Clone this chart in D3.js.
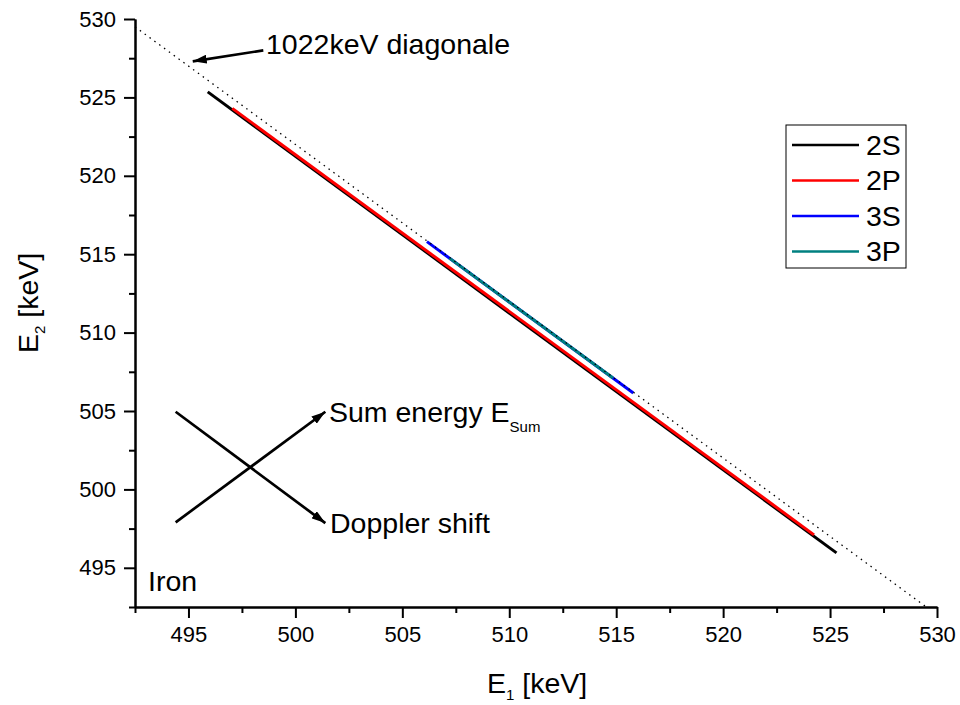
<!DOCTYPE html>
<html lang="en">

<head>
    <meta charset="UTF-8">
    <title>Iron - E1 vs E2</title>
    <script src="https://d3js.org/d3.v7.min.js"></script>
    <style>
        body {
            margin: 0;
            background: #fff;
            font-family: "Liberation Sans", Arial, sans-serif;
        }

        .tick text {
            font-size: 22px;
            font-family: "Liberation Sans", Arial, sans-serif;
        }

        .lbl {
            font-size: 28.5px;
        }
    </style>
</head>

<body>
    <svg id="chart" width="960" height="705"></svg>
    <script>
        // series: E1 / E2 in keV (start and end of each drawn line)
        let seriesNames = ["2S", "2P", "3S", "3P"]
        let seriesColors = ["#000000", "#ff0000", "#0000ff", "#008080"]
        let e1_2S = [495.9, 525.3]
        let e2_2S = [525.35, 495.95]
        let e1_2P = [497.05, 524.25]
        let e2_2P = [524.3, 497.1]
        let e1_3S = [506.15, 515.8]
        let e2_3S = [515.8, 506.15]
        let e1_3P = [507.2, 514.85]
        let e2_3P = [514.75, 507.1]

        // 1022 keV diagonal (E1 + E2 = 1022)
        let diagE1 = [492.5, 529.5]
        let diagE2 = [529.5, 492.5]

        let majorTicks = [495, 500, 505, 510, 515, 520, 525, 530]
        let minorTicks = [492.5, 497.5, 502.5, 507.5, 512.5, 517.5, 522.5, 527.5]

        let series = [
            { name: seriesNames[0], color: seriesColors[0], e1: e1_2S, e2: e2_2S },
            { name: seriesNames[1], color: seriesColors[1], e1: e1_2P, e2: e2_2P },
            { name: seriesNames[2], color: seriesColors[2], e1: e1_3S, e2: e2_3S },
            { name: seriesNames[3], color: seriesColors[3], e1: e1_3P, e2: e2_3P }
        ]

        let svg = d3.select("#chart")
        let x = d3.scaleLinear().domain([492.5, 530]).range([135, 937])
        let y = d3.scaleLinear().domain([492.5, 530]).range([607, 19])

        // axes
        svg.append("g").attr("transform", "translate(0,607)")
            .call(d3.axisBottom(x).tickValues(majorTicks).tickSize(11).tickPadding(8).tickSizeOuter(0))
        svg.append("g").attr("transform", "translate(0,607)")
            .call(d3.axisBottom(x).tickValues(minorTicks).tickSize(6).tickFormat("").tickSizeOuter(0))
        svg.append("g").attr("transform", "translate(135,0)")
            .call(d3.axisLeft(y).tickValues(majorTicks).tickSize(11).tickPadding(8).tickSizeOuter(0))
        svg.append("g").attr("transform", "translate(135,0)")
            .call(d3.axisLeft(y).tickValues(minorTicks).tickSize(6).tickFormat("").tickSizeOuter(0))
        svg.selectAll(".domain, .tick line").attr("stroke", "#000").attr("stroke-width", 2)
        svg.selectAll(".tick text").attr("fill", "#000")

        // axis titles
        let xt = svg.append("text").attr("class", "lbl").attr("x", 487).attr("y", 693)
        xt.append("tspan").text("E")
        xt.append("tspan").attr("font-size", "15px").attr("dy", 7).text("1")
        xt.append("tspan").attr("dy", -7).text(" [keV]")

        let yt = svg.append("text").attr("class", "lbl")
            .attr("transform", "translate(38,353) rotate(-90)")
        yt.append("tspan").text("E")
        yt.append("tspan").attr("font-size", "15px").attr("dy", 7).text("2")
        yt.append("tspan").attr("dy", -7).text(" [keV]")

        // data lines
        let line = d3.line().x(d => x(d[0])).y(d => y(d[1]))
        series.forEach(s => {
            svg.append("path")
                .datum(s.e1.map((v, i) => [v, s.e2[i]]))
                .attr("d", line)
                .attr("fill", "none")
                .attr("stroke", s.color)
                .attr("stroke-width", 3)
        })

        // diagonal
        svg.append("path")
            .datum(diagE1.map((v, i) => [v, diagE2[i]]))
            .attr("d", line)
            .attr("fill", "none")
            .attr("stroke", "#000")
            .attr("stroke-width", 1.3)
            .attr("stroke-dasharray", "1.5,4.5")

        // arrow marker
        svg.append("defs").append("marker")
            .attr("id", "arr")
            .attr("viewBox", "0 0 14 9")
            .attr("refX", 14).attr("refY", 4.5)
            .attr("markerWidth", 14).attr("markerHeight", 9)
            .attr("markerUnits", "userSpaceOnUse")
            .attr("orient", "auto")
            .append("path").attr("d", "M0,0 L14,4.5 L0,9 Z").attr("fill", "#000")

        function arrow(a, b) {
            svg.append("line")
                .attr("x1", x(a[0])).attr("y1", y(a[1]))
                .attr("x2", x(b[0])).attr("y2", y(b[1]))
                .attr("stroke", "#000").attr("stroke-width", 2.7)
                .attr("marker-end", "url(#arr)")
        }

        arrow([498.5, 528.0], [495.2, 527.3])
        arrow([494.4, 497.9], [501.4, 504.95])
        arrow([494.4, 504.95], [501.4, 497.85])

        svg.append("text").attr("class", "lbl").attr("x", 266).attr("y", 54).text("1022keV diagonale")
        let se = svg.append("text").attr("class", "lbl").attr("x", 329).attr("y", 422)
        se.append("tspan").text("Sum energy E")
        se.append("tspan").attr("font-size", "15px").attr("dy", 10).text("Sum")
        svg.append("text").attr("class", "lbl").attr("x", 330).attr("y", 533).text("Doppler shift")
        svg.append("text").attr("class", "lbl").attr("x", 148).attr("y", 591).text("Iron")

        // legend
        let legend = svg.append("g")
        legend.append("rect")
            .attr("x", 786).attr("y", 125).attr("width", 120).attr("height", 143)
            .attr("fill", "#fff").attr("stroke", "#000").attr("stroke-width", 1)
        series.forEach((s, i) => {
            let ly = 145 + i * 35.5
            legend.append("line")
                .attr("x1", 792).attr("x2", 859).attr("y1", ly).attr("y2", ly)
                .attr("stroke", s.color).attr("stroke-width", 2.5)
            legend.append("text").attr("class", "lbl")
                .attr("x", 866).attr("y", ly).attr("dy", "0.35em")
                .text(s.name)
        })
    </script>
</body>

</html>
